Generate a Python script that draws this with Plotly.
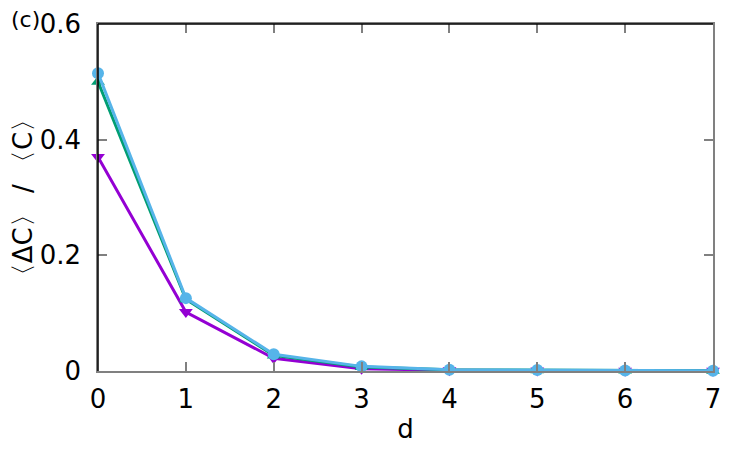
import plotly.graph_objects as go

# ---------------------------------------------------------------------------
# Data
# ---------------------------------------------------------------------------

d_values = [0, 1, 2, 3, 4, 5, 6, 7]

series_purple = [0.370, 0.102, 0.022, 0.004, 0.0012, 0.0008, 0.0005, 0.0003]
series_green = [0.500, 0.124, 0.027, 0.007, 0.0020, 0.0014, 0.0009, 0.0005]
series_blue = [0.515, 0.126, 0.029, 0.008, 0.0022, 0.0016, 0.0010, 0.0006]

x_ticks = [0, 1, 2, 3, 4, 5, 6, 7]
y_ticks = [0, 0.2, 0.4, 0.6]
y_tick_text = ["0", "0.2", "0.4", "0.6"]

FONT = "DejaVu Sans"
TICK_GRAY = "#808080"


def _trace(y, color, symbol, size):
    return go.Scatter(
        x=d_values, y=y,
        mode="lines+markers",
        line=dict(color=color, width=3),
        marker=dict(color=color, symbol=symbol, size=size),
        cliponaxis=False,
        showlegend=False,
    )


fig = go.Figure()
fig.add_trace(_trace(series_purple, "#9400d3", "triangle-down", 12))
fig.add_trace(_trace(series_green, "#009e73", "triangle-up", 12))
fig.add_trace(_trace(series_blue, "#56b4e9", "circle", 12))

# the page body has an 8px margin, so the figure is shrunk to fit the window
fig.update_layout(
    width=731, height=436,
    margin=dict(l=90, r=26, t=16, b=73),
    plot_bgcolor="white", paper_bgcolor="white",
    font=dict(family=FONT, size=26, color="black"),
    xaxis=dict(
        range=[0, 7], tickvals=x_ticks, automargin=False,
        ticks="inside", ticklen=9, tickcolor=TICK_GRAY, tickwidth=1.5,
        showline=True, linecolor=TICK_GRAY, linewidth=1.5, mirror="allticks",
        showgrid=False, zeroline=False,
        ticklabelstandoff=4,
        title=dict(text="d", font=dict(size=26), standoff=8),
    ),
    yaxis=dict(
        range=[0, 0.6], tickvals=y_ticks, ticktext=y_tick_text, automargin=False,
        ticks="inside", ticklen=9, tickcolor=TICK_GRAY, tickwidth=1.5,
        showline=True, linecolor=TICK_GRAY, linewidth=1.5, mirror="allticks",
        showgrid=False, zeroline=False,
        ticklabelstandoff=10,
        title=dict(text="〈ΔC〉 / 〈C〉", font=dict(size=26), standoff=2),
    ),
    shapes=[
        # left and top border are drawn darker than right/bottom
        dict(type="line", xref="paper", yref="paper", x0=0, x1=0, y0=0, y1=1,
             line=dict(color="black", width=1.5), layer="above"),
        dict(type="line", xref="paper", yref="paper", x0=0, x1=1, y0=1, y1=1,
             line=dict(color="black", width=1.5), layer="above"),
    ],
    annotations=[dict(
        text="(c)", xref="paper", yref="paper", x=-0.145, y=1.012,
        xanchor="left", yanchor="middle", showarrow=False,
        font=dict(size=22),
    )],
)

fig.write_html("out.html")
